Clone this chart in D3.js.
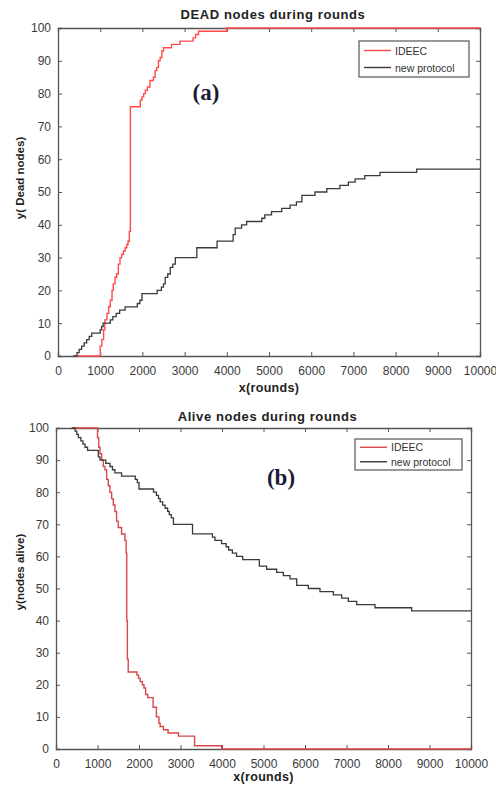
<!DOCTYPE html>
<html>
<head>
<meta charset="utf-8">
<script src="https://cdn.jsdelivr.net/npm/d3@7/dist/d3.min.js"></script>
<style>
body{margin:0;background:#fff;}
svg{display:block;font-family:"Liberation Sans",Arial,sans-serif;}
</style>
</head>
<body>
<div id="chart"></div>
<script>
// tick values shared by both panels
var xTicks = [0,1000,2000,3000,4000,5000,6000,7000,8000,9000,10000];
var yTicks = [0,10,20,30,40,50,60,70,80,90,100];
var seriesNames = ['IDEEC','new protocol'];

// panel (a): dead nodes, [round, count] (step after)
var deadIdeec = [[400,0],[1000,3],[1040,5],[1080,8],[1110,11],[1160,13],[1200,15],[1240,17],[1280,20],
  [1310,22],[1350,24],[1390,25],[1430,28],[1470,30],[1510,31],[1550,32],[1590,33],[1630,34],[1660,35],
  [1690,38],[1715,76],[1950,78],[1990,79],[2030,80],[2070,81],[2120,82],[2180,84],[2260,85],[2300,87],
  [2340,88],[2380,90],[2420,91],[2460,93],[2500,94],[2690,95],[2890,96],[3200,97],[3260,98],[3330,99],
  [4000,100],[10000,100]];
var deadNew = [[360,0],[450,1],[500,2],[560,3],[620,4],[680,5],[740,6],[800,7],[1000,8],[1035,9],
  [1070,10],[1240,11],[1300,12],[1380,13],[1460,14],[1590,15],[1880,16],[1940,17],[1990,19],[2350,20],
  [2450,21],[2500,22],[2540,24],[2600,25],[2660,27],[2720,28],[2780,30],[3290,33],[3770,35],[4150,37],
  [4200,39],[4350,40],[4470,41],[4830,42],[4900,43],[5060,44],[5300,45],[5500,46],[5650,47],[5780,49],
  [6090,50],[6370,51],[6680,52],[6880,53],[7040,54],[7270,55],[7630,56],[8500,57],[10000,57]];

// panel (b): alive nodes
var aliveIdeec = [[417,100],[1000,97],[1030,94],[1060,92],[1100,90],[1140,88],[1180,87],[1220,84],
  [1260,82],[1300,80],[1340,78],[1380,76],[1420,74],[1460,71],[1500,69],[1580,67],[1660,65],[1690,61],
  [1705,40],[1720,28],[1740,24],[1950,23],[1990,22],[2030,21],[2080,20],[2120,19],[2160,17],[2210,16],
  [2340,13],[2420,10],[2480,8],[2510,7],[2590,6],[2700,5],[2950,4],[3340,1],[3990,0],[10000,0]];
var aliveNew = [[378,100],[460,99],[500,98],[540,97],[600,96],[650,95],[700,94],[760,93],[1020,91],
  [1060,90],[1200,89],[1300,88],[1360,87],[1420,86],[1580,85],[1910,84],[1960,83],[2000,81],[2350,80],
  [2420,79],[2470,78],[2510,77],[2570,76],[2630,75],[2690,74],[2730,73],[2780,72],[2830,70],[3290,67],
  [3770,66],[3830,65],[3990,64],[4100,63],[4160,62],[4250,61],[4350,60],[4500,59],[4900,57],[5076,56],
  [5317,55],[5477,54],[5639,53],[5800,51],[6080,50],[6361,49],[6683,48],[6884,47],[7044,46],[7245,45],
  [7687,44],[8571,43],[10000,43]];

var W = 496, H = 793;
var svg = d3.select('#chart').append('svg')
    .attr('width',W).attr('height',H);

var panels = [
  {l:58,r:480,t:28,b:356,title:'DEAD nodes during rounds',titleY:19,xlab:'x(rounds)',xlabY:392,
   ylab:'y( Dead nodes)',ylabX:24,ylabY:178,tag:'(a)',tagX:206,tagY:100,
   leg:[359,41,110,36],red:'#ff4a4a',series:[deadIdeec,deadNew]},
  {l:56,r:471,t:428,b:749,title:'Alive nodes during rounds',titleY:421,xlab:'x(rounds)',xlabY:781,
   ylab:'y(nodes alive)',ylabX:24,ylabY:572,tag:'(b)',tagX:281,tagY:485,
   leg:[355,439,107,31],red:'#d9474a',series:[aliveIdeec,aliveNew]}
];

panels.forEach(function(p){
    var x = d3.scaleLinear().domain([0,10000]).range([p.l,p.r]);
    var y = d3.scaleLinear().domain([0,100]).range([p.b,p.t]);
    var g = svg.append('g');

    g.append('rect')
        .attr('x',p.l).attr('y',p.t)
        .attr('width',p.r-p.l).attr('height',p.b-p.t)
        .style('fill','#fff');

    var line = d3.line()
        .x(function(d){return x(d[0]);})
        .y(function(d){return y(d[1]);})
        .curve(d3.curveStepAfter);

    var axcol = '#555';
    // bottom + left with labels, ticks pointing in (matlab style)
    var xb = g.append('g').attr('transform','translate(0,'+p.b+')')
        .call(d3.axisBottom(x).tickValues(xTicks).tickSize(-4).tickPadding(10).tickFormat(d3.format('d')));
    var yl = g.append('g').attr('transform','translate('+p.l+',0)')
        .call(d3.axisLeft(y).tickValues(yTicks).tickSize(-4).tickPadding(7));
    var xt = g.append('g').attr('transform','translate(0,'+p.t+')')
        .call(d3.axisTop(x).tickValues(xTicks).tickSize(-4).tickFormat(''));
    var yr = g.append('g').attr('transform','translate('+p.r+',0)')
        .call(d3.axisRight(y).tickValues(yTicks).tickSize(-4).tickFormat(''));
    [xb,yl,xt,yr].forEach(function(a){
        a.selectAll('path').style('stroke',axcol).style('stroke-width',1.3);
        a.selectAll('line').style('stroke',axcol);
        a.selectAll('text').style('font-size','12px').style('fill','#3a3a3a')
            .style('font-family','"Liberation Sans",Arial,sans-serif');
    });

    // data lines on top of the frame
    g.append('path').datum(p.series[0])
        .attr('d',line)
        .style('fill','none').style('stroke',p.red).style('stroke-width',1.4);
    g.append('path').datum(p.series[1])
        .attr('d',line)
        .style('fill','none').style('stroke','#3a3a3a').style('stroke-width',1.3);

    g.append('text')
        .attr('x',(p.l+p.r)/2+4).attr('y',p.titleY)
        .attr('text-anchor','middle')
        .style('font-size','13px').style('font-weight','bold').style('fill','#222')
        .style('letter-spacing','0.6px')
        .text(p.title);
    g.append('text')
        .attr('x',(p.l+p.r)/2).attr('y',p.xlabY)
        .attr('text-anchor','middle')
        .style('font-size','12.5px').style('font-weight','bold').style('fill','#222')
        .style('letter-spacing','0.3px')
        .text(p.xlab);
    g.append('text')
        .attr('transform','translate('+p.ylabX+','+p.ylabY+') rotate(-90)')
        .attr('text-anchor','middle')
        .style('font-size','11.5px').style('font-weight','bold').style('fill','#222')
        .text(p.ylab);
    g.append('text')
        .attr('x',p.tagX).attr('y',p.tagY)
        .attr('text-anchor','middle')
        .style('font-family','"Liberation Serif","Times New Roman",serif')
        .style('font-size','23px').style('font-weight','bold').style('fill','#1b1b35')
        .text(p.tag);

    // legend box
    var lg = p.leg;
    var legend = g.append('g');
    legend.append('rect')
        .attr('x',lg[0]).attr('y',lg[1]).attr('width',lg[2]).attr('height',lg[3])
        .style('fill','#fff').style('stroke','#555').style('stroke-width',1.2);
    var rowH = lg[3]/2;
    seriesNames.forEach(function(name,i){
        var cy = lg[1]+rowH*(i+0.5)+ (i==0?0.5:-0.5);
        legend.append('line')
            .attr('x1',lg[0]+5).attr('x2',lg[0]+32)
            .attr('y1',cy).attr('y2',cy)
            .style('stroke',i==0?p.red:'#3a3a3a').style('stroke-width',1.4);
        legend.append('text')
            .attr('x',lg[0]+36).attr('y',cy+4)
            .style('font-size','10.5px').style('fill','#333')
            .text(name);
    });
});
</script>
</body>
</html>
